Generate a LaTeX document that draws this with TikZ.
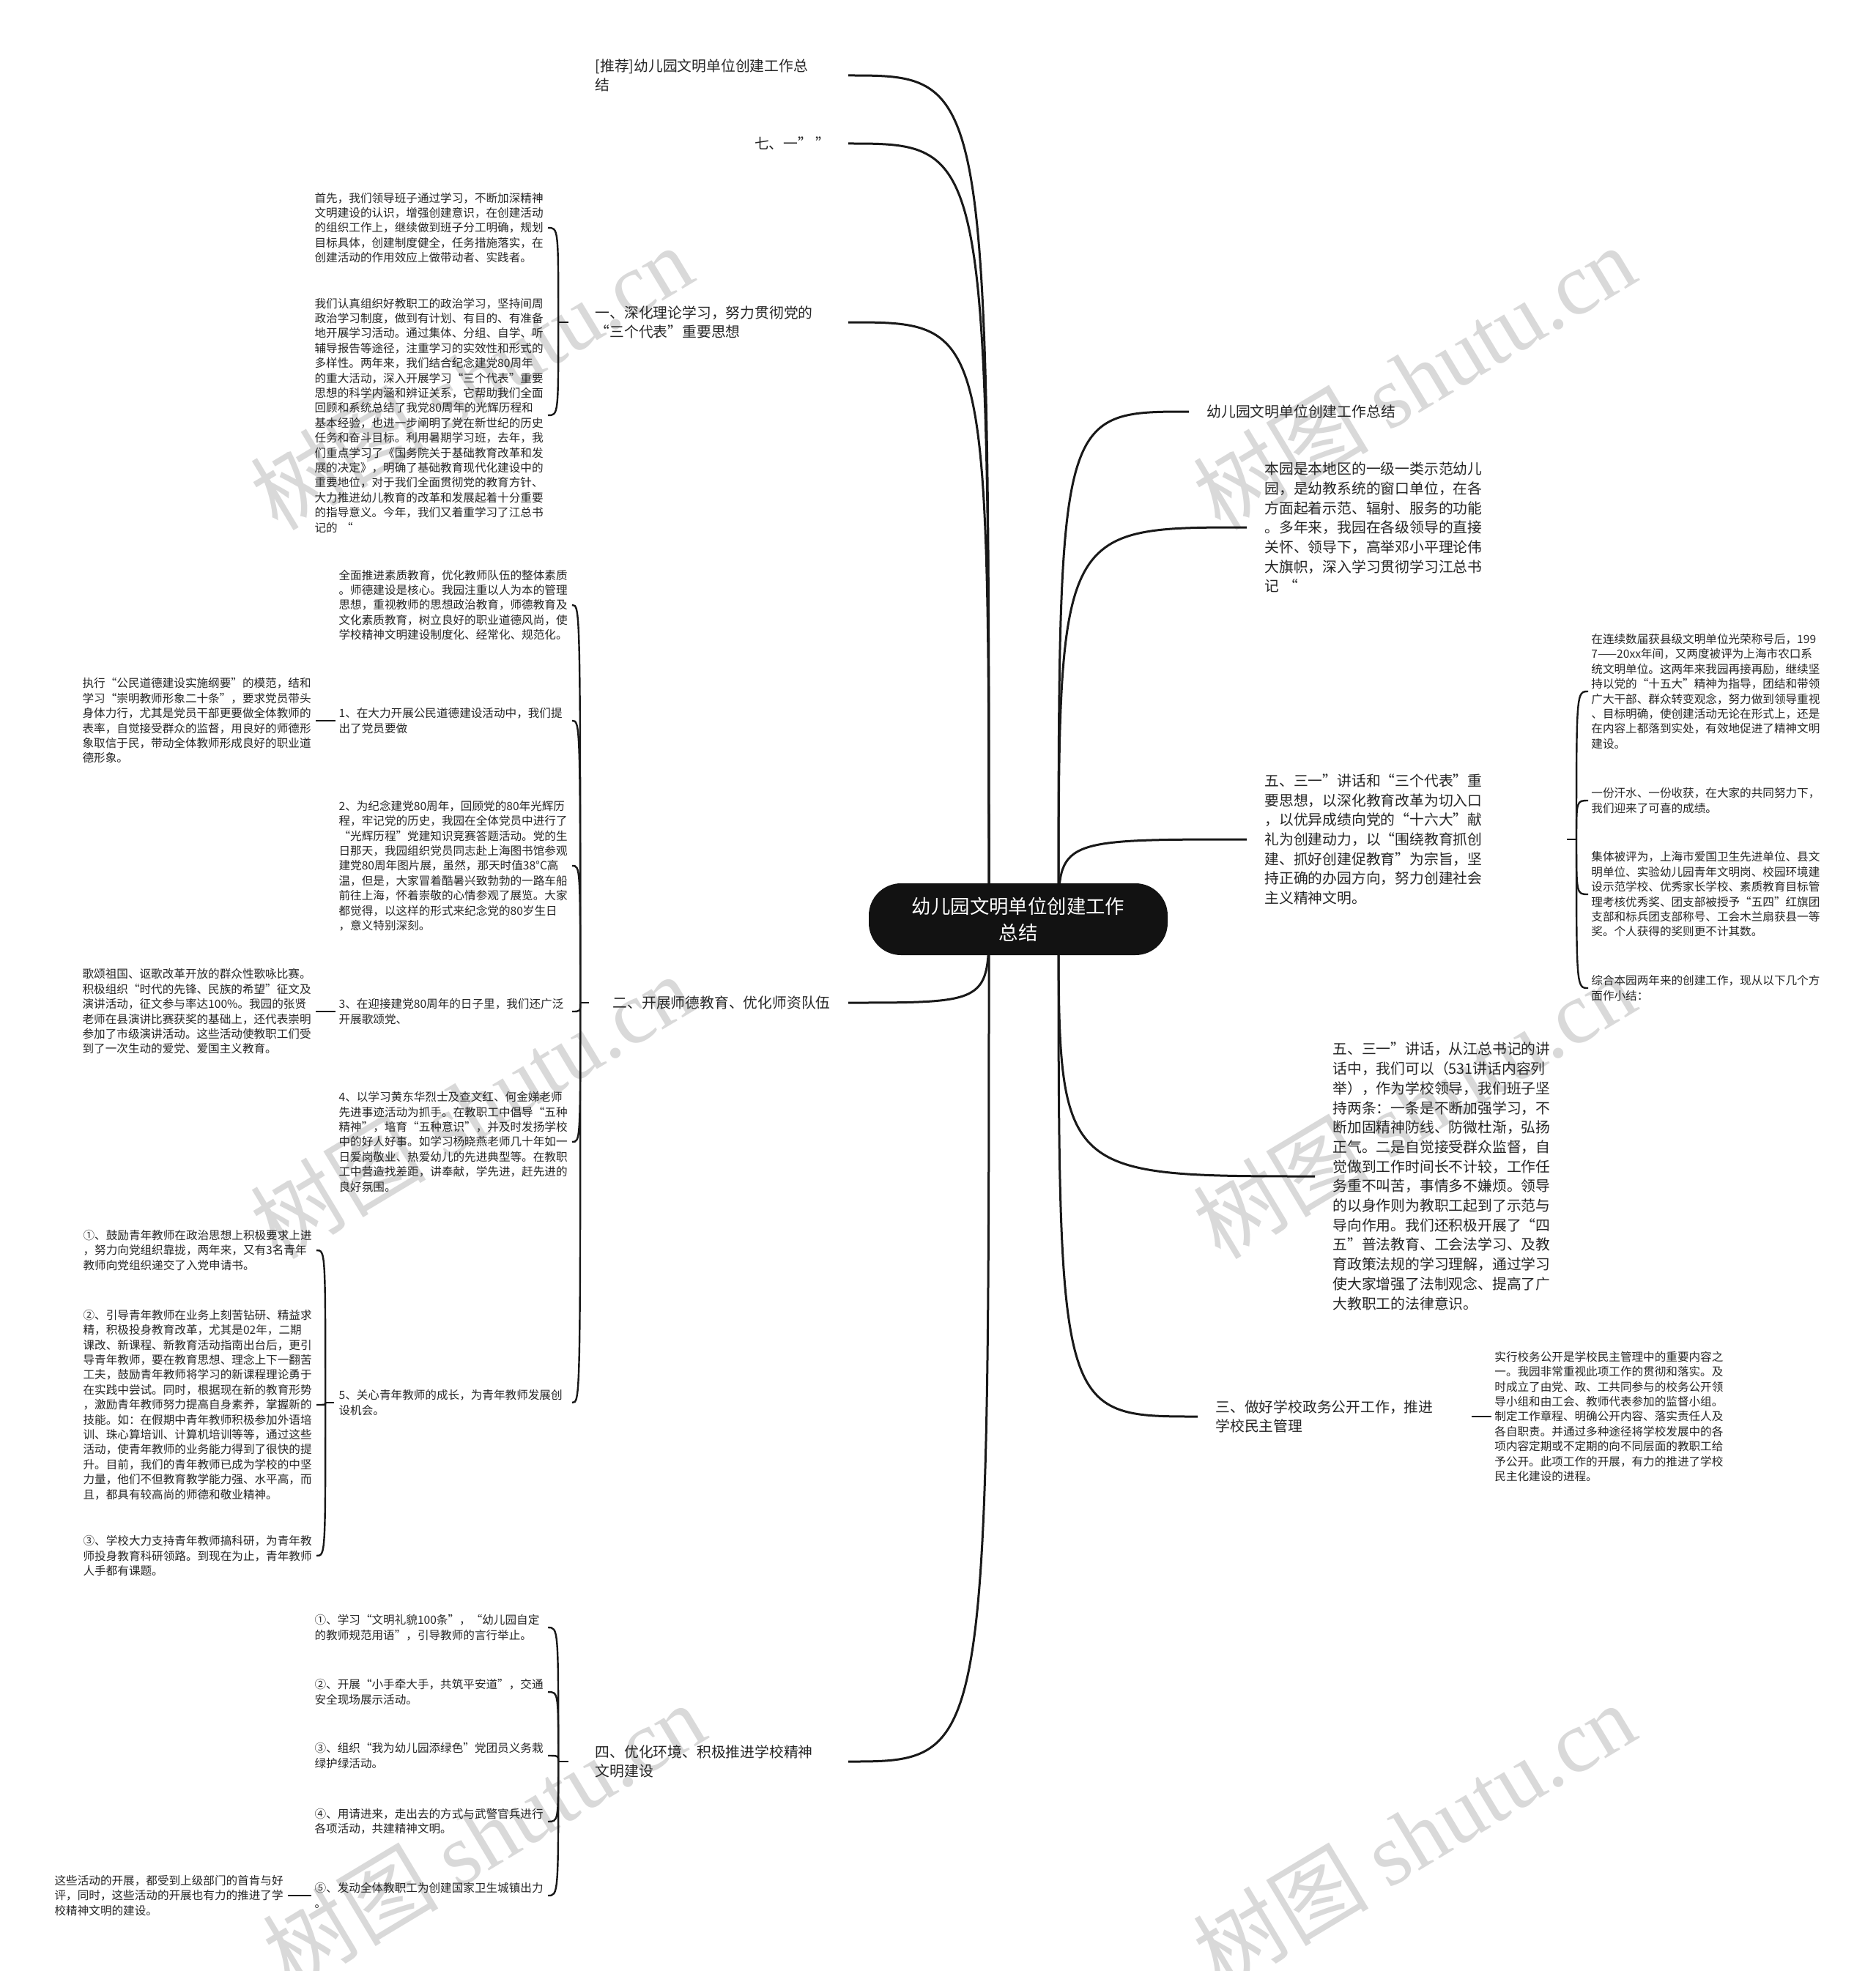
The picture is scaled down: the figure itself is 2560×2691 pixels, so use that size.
\documentclass[tikz,border=0pt]{standalone}
\usepackage{fontspec}
\setmainfont{Noto Sans CJK SC}
\newfontfamily\wmlat{Liberation Serif}
\begin{document}
\begin{tikzpicture}[x=0.5pt,y=-0.5pt,
  sm/.style={font=\fontsize{7.8pt}{10.2pt}\selectfont, align=left, text width=157pt, inner xsep=2pt, inner ysep=0pt, text=black!85},
  md/.style={font=\fontsize{9.9pt}{13.35pt}\selectfont, align=left, inner xsep=12pt, inner ysep=0pt, text=black!85},
  mainline/.style={line width=1.5pt, draw=black!90},
  subline/.style={line width=1.2pt, draw=black!90},
  wm/.style={rotate=31, text=black!15, font=\fontsize{60pt}{60pt}\selectfont, inner sep=0pt},
  centernode/.style={fill=black!93, text=white, rounded corners=22pt, minimum width=204pt, minimum height=49pt, align=center, font=\fontsize{13.2pt}{18pt}\selectfont}
]
\fill[white] (0,0) rectangle (2560,2691);
\useasboundingbox (0,0) rectangle (2560,2691);

% watermarks
\node[wm] (wm1) at (643,515) {树图 {\wmlat shutu.cn}};
\node[wm] (wm2) at (1930,515) {树图 {\wmlat shutu.cn}};
\node[wm] (wm3) at (643,1510) {树图 {\wmlat shutu.cn}};
\node[wm] (wm4) at (1930,1510) {树图 {\wmlat shutu.cn}};
\node[wm] (wm5) at (660,2505) {树图 {\wmlat shutu.cn}};
\node[wm] (wm6) at (1930,2505) {树图 {\wmlat shutu.cn}};

\coordinate (SL) at (1350,1255);
\coordinate (SR) at (1445,1255);

% ---------- left first level ----------
\node[md, text width=160.5pt, anchor=east] (L1) at (1158,103) {[推荐]幼儿园文明单位创建工作总\\结};
\node[md, anchor=east] (L2) at (1158,196) {七、一” ”};
\node[md, text width=160.5pt, anchor=east] (L3) at (1158,440) {一、深化理论学习，努力贯彻党的\\“三个代表”重要思想};
\node[md, anchor=east] (L4) at (1158,1369) {二、开展师德教育、优化师资队伍};
\node[md, text width=160.5pt, anchor=east] (L5) at (1158,2405) {四、优化环境、积极推进学校精神\\文明建设};

% ---------- right first level ----------
\node[md, anchor=west] (R1) at (1623,562) {幼儿园文明单位创建工作总结};
\node[md, text width=150pt, anchor=west] (R2) at (1702,720) {本园是本地区的一级一类示范幼儿\\园，是幼教系统的窗口单位，在各\\方面起着示范、辐射、服务的功能\\。多年来，我园在各级领导的直接\\关怀、领导下，高举邓小平理论伟\\大旗帜，深入学习贯彻学习江总书\\记 “};
\node[md, text width=150pt, anchor=west] (R3) at (1702,1146) {五、三一”讲话和“三个代表”重\\要思想，以深化教育改革为切入口\\，以优异成绩向党的“十六大”献\\礼为创建动力，以“围绕教育抓创\\建、抓好创建促教育”为宗旨，坚\\持正确的办园方向，努力创建社会\\主义精神文明。};
\node[md, text width=150pt, anchor=west] (R4) at (1795,1606) {五、三一”讲话，从江总书记的讲\\话中，我们可以（531讲话内容列\\举），作为学校领导，我们班子坚\\持两条：一条是不断加强学习，不\\断加固精神防线、防微杜渐，弘扬\\正气。二是自觉接受群众监督，自\\觉做到工作时间长不计较，工作任\\务重不叫苦，事情多不嫌烦。领导\\的以身作则为教职工起到了示范与\\导向作用。我们还积极开展了“四\\五”普法教育、工会法学习、及教\\育政策法规的学习理解，通过学习\\使大家增强了法制观念、提高了广\\大教职工的法律意识。};
\node[md, text width=150pt, anchor=west] (R5) at (1635,1934) {三、做好学校政务公开工作，推进\\学校民主管理};

% ---------- main connectors ----------
\foreach \n in {L1,L2,L3,L4,L5}
  \draw[mainline] (SL) .. controls (SL |- \n.east) and (SL |- \n.east) .. (\n.east);
\foreach \n in {R1,R2,R3,R4,R5}
  \draw[mainline] (SR) .. controls (SR |- \n.west) and (SR |- \n.west) .. (\n.west);

% ---------- branch one ----------
\node[sm, anchor=east] (C3a) at (748,311) {首先，我们领导班子通过学习，不断加深精神\\文明建设的认识，增强创建意识，在创建活动\\的组织工作上，继续做到班子分工明确，规划\\目标具体，创建制度健全，任务措施落实，在\\创建活动的作用效应上做带动者、实践者。};
\node[sm, anchor=east] (C3b) at (748,567) {我们认真组织好教职工的政治学习，坚持间周\\政治学习制度，做到有计划、有目的、有准备\\地开展学习活动。通过集体、分组、自学、听\\辅导报告等途径，注重学习的实效性和形式的\\多样性。两年来，我们结合纪念建党80周年\\的重大活动，深入开展学习“三个代表”重要\\思想的科学内涵和辨证关系，它帮助我们全面\\回顾和系统总结了我党80周年的光辉历程和\\基本经验，也进一步阐明了党在新世纪的历史\\任务和奋斗目标。利用暑期学习班，去年，我\\们重点学习了《国务院关于基础教育改革和发\\展的决定》，明确了基础教育现代化建设中的\\重要地位，对于我们全面贯彻党的教育方针、\\大力推进幼儿教育的改革和发展起着十分重要\\的指导意义。今年，我们又着重学习了江总书\\记的 “};
\coordinate (J3) at ([xshift=-13pt]L3.west);
\draw[subline] ([xshift=-6pt]L3.west) -- (J3);
\foreach \n in {C3a,C3b}
  \draw[subline] (J3) .. controls (J3 |- \n.east) and (J3 |- \n.east) .. (\n.east);

% ---------- branch two ----------
\node[sm, anchor=east] (C4a) at (781,826) {全面推进素质教育，优化教师队伍的整体素质\\。师德建设是核心。我园注重以人为本的管理\\思想，重视教师的思想政治教育，师德教育及\\文化素质教育，树立良好的职业道德风尚，使\\学校精神文明建设制度化、经常化、规范化。};
\node[sm, anchor=east] (C4b) at (781,984) {1、在大力开展公民道德建设活动中，我们提\\出了党员要做};
\node[sm, anchor=east] (C4c) at (781,1182) {2、为纪念建党80周年，回顾党的80年光辉历\\程，牢记党的历史，我园在全体党员中进行了\\“光辉历程”党建知识竞赛答题活动。党的生\\日那天，我园组织党员同志赴上海图书馆参观\\建党80周年图片展，虽然，那天时值38°C高\\温，但是，大家冒着酷暑兴致勃勃的一路车船\\前往上海，怀着崇敬的心情参观了展览。大家\\都觉得，以这样的形式来纪念党的80岁生日\\，意义特别深刻。};
\node[sm, anchor=east] (C4d) at (781,1381) {3、在迎接建党80周年的日子里，我们还广泛\\开展歌颂党、};
\node[sm, anchor=east] (C4e) at (781,1559) {4、以学习黄东华烈士及查文红、何金娣老师\\先进事迹活动为抓手。在教职工中倡导“五种\\精神”，培育“五种意识”，并及时发扬学校\\中的好人好事。如学习杨晓燕老师几十年如一\\日爱岗敬业、热爱幼儿的先进典型等。在教职\\工中营造找差距，讲奉献，学先进，赶先进的\\良好氛围。};
\node[sm, anchor=east] (C4f) at (781,1915) {5、关心青年教师的成长，为青年教师发展创\\设机会。};
\coordinate (J4) at ([xshift=-10pt]L4.west);
\draw[subline] ([xshift=-4pt]L4.west) -- (J4);
\foreach \n in {C4a,C4b,C4c,C4d,C4e,C4f}
  \draw[subline] (J4) .. controls (J4 |- \n.east) and (J4 |- \n.east) .. (\n.east);

\node[sm, anchor=east] (G4b) at (431,984) {执行“公民道德建设实施纲要”的模范，结和\\学习“崇明教师形象二十条”，要求党员带头\\身体力行，尤其是党员干部更要做全体教师的\\表率，自觉接受群众的监督，用良好的师德形\\象取信于民，带动全体教师形成良好的职业道\\德形象。};
\draw[subline] (C4b.west) -- (G4b.east);
\node[sm, anchor=east] (G4d) at (431,1381) {歌颂祖国、讴歌改革开放的群众性歌咏比赛。\\积极组织“时代的先锋、民族的希望”征文及\\演讲活动，征文参与率达100\%。我园的张贤\\老师在县演讲比赛获奖的基础上，还代表崇明\\参加了市级演讲活动。这些活动使教职工们受\\到了一次生动的爱党、爱国主义教育。};
\draw[subline] (C4d.west) -- (G4d.east);

\node[sm, anchor=east] (G4f1) at (432,1707) {①、鼓励青年教师在政治思想上积极要求上进\\，努力向党组织靠拢，两年来，又有3名青年\\教师向党组织递交了入党申请书。};
\node[sm, anchor=east] (G4f2) at (432,1918) {②、引导青年教师在业务上刻苦钻研、精益求\\精，积极投身教育改革，尤其是02年，二期\\课改、新课程、新教育活动指南出台后，更引\\导青年教师，要在教育思想、理念上下一翻苦\\工夫，鼓励青年教师将学习的新课程理论勇于\\在实践中尝试。同时，根据现在新的教育形势\\，激励青年教师努力提高自身素养，掌握新的\\技能。如：在假期中青年教师积极参加外语培\\训、珠心算培训、计算机培训等等，通过这些\\活动，使青年教师的业务能力得到了很快的提\\升。目前，我们的青年教师已成为学校的中坚\\力量，他们不但教育教学能力强、水平高，而\\且，都具有较高尚的师德和敬业精神。};
\node[sm, anchor=east] (G4f3) at (432,2124) {③、学校大力支持青年教师搞科研，为青年教\\师投身教育科研领路。到现在为止，青年教师\\人手都有课题。};
\coordinate (J4f) at ([xshift=-7pt]C4f.west);
\draw[subline] ([xshift=-1pt]C4f.west) -- (J4f);
\foreach \n in {G4f1,G4f2,G4f3}
  \draw[subline] (J4f) .. controls (J4f |- \n.east) and (J4f |- \n.east) .. (\n.east);

% ---------- branch four ----------
\node[sm, anchor=east] (C5a) at (748,2222) {①、学习“文明礼貌100条”，“幼儿园自定\\的教师规范用语”，引导教师的言行举止。};
\node[sm, anchor=east] (C5b) at (748,2310) {②、开展“小手牵大手，共筑平安道”，交通\\安全现场展示活动。};
\node[sm, anchor=east] (C5c) at (748,2397) {③、组织“我为幼儿园添绿色”党团员义务栽\\绿护绿活动。};
\node[sm, anchor=east] (C5d) at (748,2487) {④、用请进来，走出去的方式与武警官兵进行\\各项活动，共建精神文明。};
\node[sm, anchor=east] (C5e) at (748,2588) {⑤、发动全体教职工为创建国家卫生城镇出力\\。};
\coordinate (J5) at ([xshift=-13pt]L5.west);
\draw[subline] ([xshift=-6pt]L5.west) -- (J5);
\foreach \n in {C5a,C5b,C5c,C5d,C5e}
  \draw[subline] (J5) .. controls (J5 |- \n.east) and (J5 |- \n.east) .. (\n.east);
\node[sm, anchor=east] (G5e) at (393,2588) {这些活动的开展，都受到上级部门的首肯与好\\评，同时，这些活动的开展也有力的推进了学\\校精神文明的建设。};
\draw[subline] (C5e.west) -- (G5e.east);

% ---------- right branch children ----------
\node[sm, anchor=west] (R3a) at (2168,944) {在连续数届获县级文明单位光荣称号后，199\\7——20xx年间，又两度被评为上海市农口系\\统文明单位。这两年来我园再接再励，继续坚\\持以党的“十五大”精神为指导，团结和带领\\广大干部、群众转变观念，努力做到领导重视\\、目标明确，使创建活动无论在形式上，还是\\在内容上都落到实处，有效地促进了精神文明\\建设。};
\node[sm, anchor=west] (R3b) at (2168,1093) {一份汗水、一份收获，在大家的共同努力下，\\我们迎来了可喜的成绩。};
\node[sm, anchor=west] (R3c) at (2168,1221) {集体被评为，上海市爱国卫生先进单位、县文\\明单位、实验幼儿园青年文明岗、校园环境建\\设示范学校、优秀家长学校、素质教育目标管\\理考核优秀奖、团支部被授予“五四”红旗团\\支部和标兵团支部称号、工会木兰扇获县一等\\奖。个人获得的奖则更不计其数。};
\node[sm, anchor=west] (R3d) at (2168,1349) {综合本园两年来的创建工作，现从以下几个方\\面作小结：};
\coordinate (J3R) at (2152,1146);
\draw[subline] (2139,1146) -- (J3R);
\foreach \n in {R3a,R3b,R3c,R3d}
  \draw[subline] (J3R) .. controls (J3R |- \n.west) and (J3R |- \n.west) .. (\n.west);

\node[sm, anchor=west] (R5a) at (2036,1934) {实行校务公开是学校民主管理中的重要内容之\\一。我园非常重视此项工作的贯彻和落实。及\\时成立了由党、政、工共同参与的校务公开领\\导小组和由工会、教师代表参加的监督小组。\\制定工作章程、明确公开内容、落实责任人及\\各自职责。并通过多种途径将学校发展中的各\\项内容定期或不定期的向不同层面的教职工给\\予公开。此项工作的开展，有力的推进了学校\\民主化建设的进程。};
\draw[subline] ([xshift=12.5pt]R5.east) -- (R5a.west);

% ---------- center ----------
\node[centernode] (C) at (1390,1255) {幼儿园文明单位创建工作\\总结};
\end{tikzpicture}
\end{document}
